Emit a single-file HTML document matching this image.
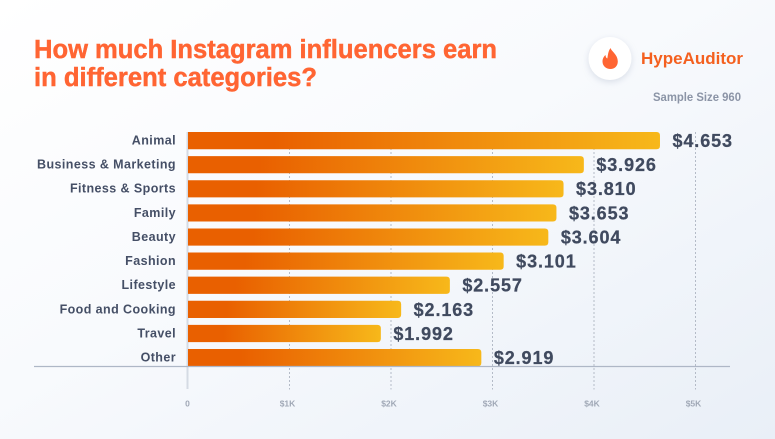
<!DOCTYPE html>
<html lang="en">
<head>
<meta charset="utf-8">
<title>How much Instagram influencers earn in different categories?</title>
<style>
html,body{margin:0;padding:0;width:775px;height:439px;overflow:hidden;background:#f5f8fc;}
svg{display:block;}
text{font-family:"Liberation Sans",Arial,sans-serif;font-weight:700;}
</style>
</head>
<body>
<svg id="chart" xmlns="http://www.w3.org/2000/svg" width="775" height="439" viewBox="0 0 775 439">
  <defs>
    <linearGradient id="bg" x1="0" y1="0" x2="1" y2="1">
      <stop offset="0" stop-color="#ffffff"/>
      <stop offset="0.45" stop-color="#f8fafd"/>
      <stop offset="1" stop-color="#e9eff7"/>
    </linearGradient>
    <linearGradient id="barFill" x1="0" y1="0" x2="1" y2="0">
      <stop offset="0" stop-color="#e96000"/>
      <stop offset="0.18" stop-color="#e96000"/>
      <stop offset="1" stop-color="#f7b81a"/>
    </linearGradient>
    <filter id="logoShadow" x="-40%" y="-40%" width="180%" height="180%">
      <feDropShadow dx="0" dy="2" stdDeviation="3.5" flood-color="#a9b4c6" flood-opacity="0.4"/>
    </filter>
  </defs>
  <rect width="775" height="439" fill="url(#bg)"/>

  <g fill="#ff6533" stroke="#ff6533" stroke-width="0.45" font-size="25.500">
    <text x="34" y="58" textLength="463" lengthAdjust="spacingAndGlyphs">How much Instagram influencers earn</text>
    <text x="34" y="86" textLength="283" lengthAdjust="spacingAndGlyphs">in different categories?</text>
  </g>

  <g>
    <circle cx="610" cy="58.500" r="21.500" fill="#ffffff" filter="url(#logoShadow)"/>
    <path d="M610.500 48 C611.500 51.500 617.800 54.500 617.800 61.500 C617.800 66 614.500 69 610.500 69 C606.300 69 602.500 66 602.500 61.500 C602.500 58.500 604 56.300 605.500 55 C605.700 57 606.300 58 607.300 58.500 C608 55 608 51.500 610.500 48 Z" fill="#ff6533"/>
    <text x="641" y="64" font-size="17" fill="#f4601f" textLength="102" lengthAdjust="spacingAndGlyphs">HypeAuditor</text>
  </g>
  <text x="653" y="101" font-size="11.500" fill="#8b94a6" textLength="88" lengthAdjust="spacingAndGlyphs">Sample Size 960</text>

  <g id="grid"></g>
  <g id="bars"></g>
  <g id="catLabels"></g>
  <g id="valLabels"></g>
  <g id="ticks"></g>
</svg>
<script>
const categories = ["Animal","Business & Marketing","Fitness & Sports","Family","Beauty","Fashion","Lifestyle","Food and Cooking","Travel","Other"];
const barValues = [4.65,3.90,3.70,3.63,3.55,3.11,2.58,2.10,1.90,2.89];
const printedValues = ["$4.653","$3.926","$3.810","$3.653","$3.604","$3.101","$2.557","$2.163","$1.992","$2.919"];
const tickValues = [0,1,2,3,4,5];
const tickLabels = ["0","$1K","$2K","$3K","$4K","$5K"];

const NS = "http://www.w3.org/2000/svg";
const X0 = 188, PER_UNIT = 101.5, TOP = 132, PITCH = 24.11, BAR_H = 17.2, R = 3.5;
const xScale = function (v) { return X0 + v * PER_UNIT; };
const yScale = function (i) { return TOP + i * PITCH; };
const make = function (tag, attrs, parent) {
  const el = document.createElementNS(NS, tag);
  Object.keys(attrs).forEach(function (k) { el.setAttribute(k, attrs[k]); });
  parent.appendChild(el);
  return el;
};
const gridG = document.getElementById("grid");
const barsG = document.getElementById("bars");
const catG = document.getElementById("catLabels");
const valG = document.getElementById("valLabels");
const tickG = document.getElementById("ticks");

tickValues.forEach(function (t, i) {
  if (t === 0) return;
  const x = xScale(t);
  const line = make("line", {x1: x, x2: x, y1: TOP, y2: 389.5, stroke: "#b4bbc7", "stroke-width": 1, "stroke-dasharray": "2 2"}, gridG);
  
  
});

const yAxis = make("line", {x1: X0 - 0.5, x2: X0 - 0.5, y1: TOP, y2: 389, stroke: "#d5dbe4", "stroke-width": 2}, gridG);



categories.forEach(function (name, i) {
  const y = yScale(i), x = xScale(barValues[i]);
  const d = "M" + X0 + " " + y + "H" + (x - R) + "Q" + x + " " + y + " " + x + " " + (y + R) +
            "V" + (y + BAR_H - R) + "Q" + x + " " + (y + BAR_H) + " " + (x - R) + " " + (y + BAR_H) + "H" + X0 + "Z";
  const bar = make("path", {d: d, fill: "url(#barFill)"}, barsG);
  
  

  const cat = make("text", {x: 176, y: y + 12.5, "text-anchor": "end", "font-size": 12.5, "letter-spacing": "0.42", fill: "#454f66"}, catG);
  cat.textContent = name;
  
  

  const val = make("text", {x: x + 12.5, y: y + 15, "font-size": 18, "letter-spacing": "0.9", fill: "#404a5f", stroke: "#404a5f", "stroke-width": 0.25}, valG);
  val.textContent = printedValues[i];
  
  
});

const xAxis = make("line", {x1: 34, x2: 730, y1: 366.5, y2: 366.5, stroke: "#aeb7c6", "stroke-width": 1.2}, tickG);



tickValues.forEach(function (t, i) {
  const label = make("text", {x: xScale(t) - (t === 0 ? 0.5 : 2), y: 406.5, "text-anchor": "middle", "font-size": 8.5, fill: "#a0a8b6"}, tickG);
  label.textContent = tickLabels[i];
  
  
});
</script>
</body>
</html>
